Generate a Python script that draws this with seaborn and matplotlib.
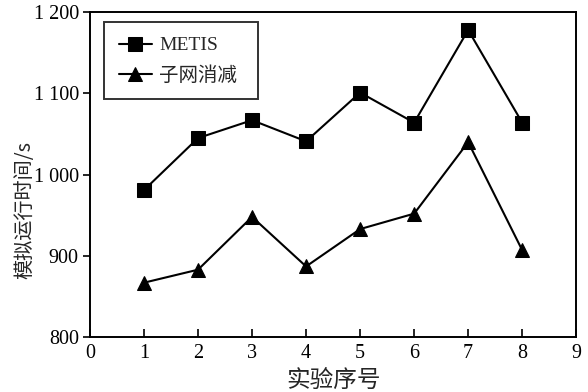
import matplotlib
matplotlib.use("Agg")
import matplotlib.pyplot as plt
import seaborn as sns
import pandas as pd

# Experiment index and simulated run times (s)
runs = [1, 2, 3, 4, 5, 6, 7, 8]
metis_time = [981, 1045, 1067, 1041, 1101, 1064, 1178, 1064]
subnet_time = [867, 883, 948, 887, 933, 952, 1040, 907]
series_names = ["METIS", "子网消减"]
x_ticks = list(range(0, 10))
y_ticks = [800, 900, 1000, 1100, 1200]
y_tick_labels = ["800", "900", "1 000", "1 100", "1 200"]

sns.set_theme(style="white")
plt.rcParams["font.family"] = ["Liberation Serif", "Noto Sans CJK SC", "DejaVu Sans"]

df = pd.DataFrame({
    "run": runs * 2,
    "time": metis_time + subnet_time,
    "method": [series_names[0]] * len(runs) + [series_names[1]] * len(runs),
})

fig = plt.figure(figsize=(5.88, 3.92), dpi=100)
ax = fig.add_axes([0.153, 0.140, 0.827, 0.829])

sns.lineplot(
    data=df, x="run", y="time", hue="method", style="method",
    markers={series_names[0]: "s", series_names[1]: "^"},
    dashes=False, palette=["black", "black"], linewidth=1.5,
    markersize=9.5, markeredgecolor="black", ax=ax, legend=True,
)

ax.set_xlim(0, 9)
ax.set_ylim(800, 1200)
ax.set_xticks(x_ticks)
ax.set_xticklabels([str(t) for t in x_ticks])
ax.set_yticks(y_ticks)
ax.set_yticklabels(y_tick_labels)

for side in ["left", "bottom", "right", "top"]:
    ax.spines[side].set_color("black")
    ax.spines[side].set_linewidth(1.4)

ax.tick_params(axis="x", direction="in", length=6, width=1.2, labelsize=14.5, pad=5, colors="black", bottom=True)
ax.tick_params(axis="y", direction="out", length=5, width=1.2, labelsize=14.5, pad=3, colors="black", left=True)

ax.set_xlabel("实验序号", fontsize=17, family=["Noto Sans CJK SC"], labelpad=4)
ax.set_ylabel("模拟运行时间/s", fontsize=14.5, family=["Noto Sans CJK SC", "Liberation Serif"])
ax.yaxis.set_label_coords(-0.112, 0.39)

leg = ax.legend(
    loc="upper left", bbox_to_anchor=(0.0288, 0.7446, 0.317, 0.2246), mode="expand",
    fontsize=14, frameon=True, fancybox=False, edgecolor="black",
    handlelength=1.7, borderpad=0.75, labelspacing=0.6, handletextpad=0.4,
    borderaxespad=0,
)
leg.get_frame().set_linewidth(1.4)
for line in leg.get_lines():
    line.set_markersize(9.5)

fig.savefig("out.png", dpi=100, facecolor="white")
